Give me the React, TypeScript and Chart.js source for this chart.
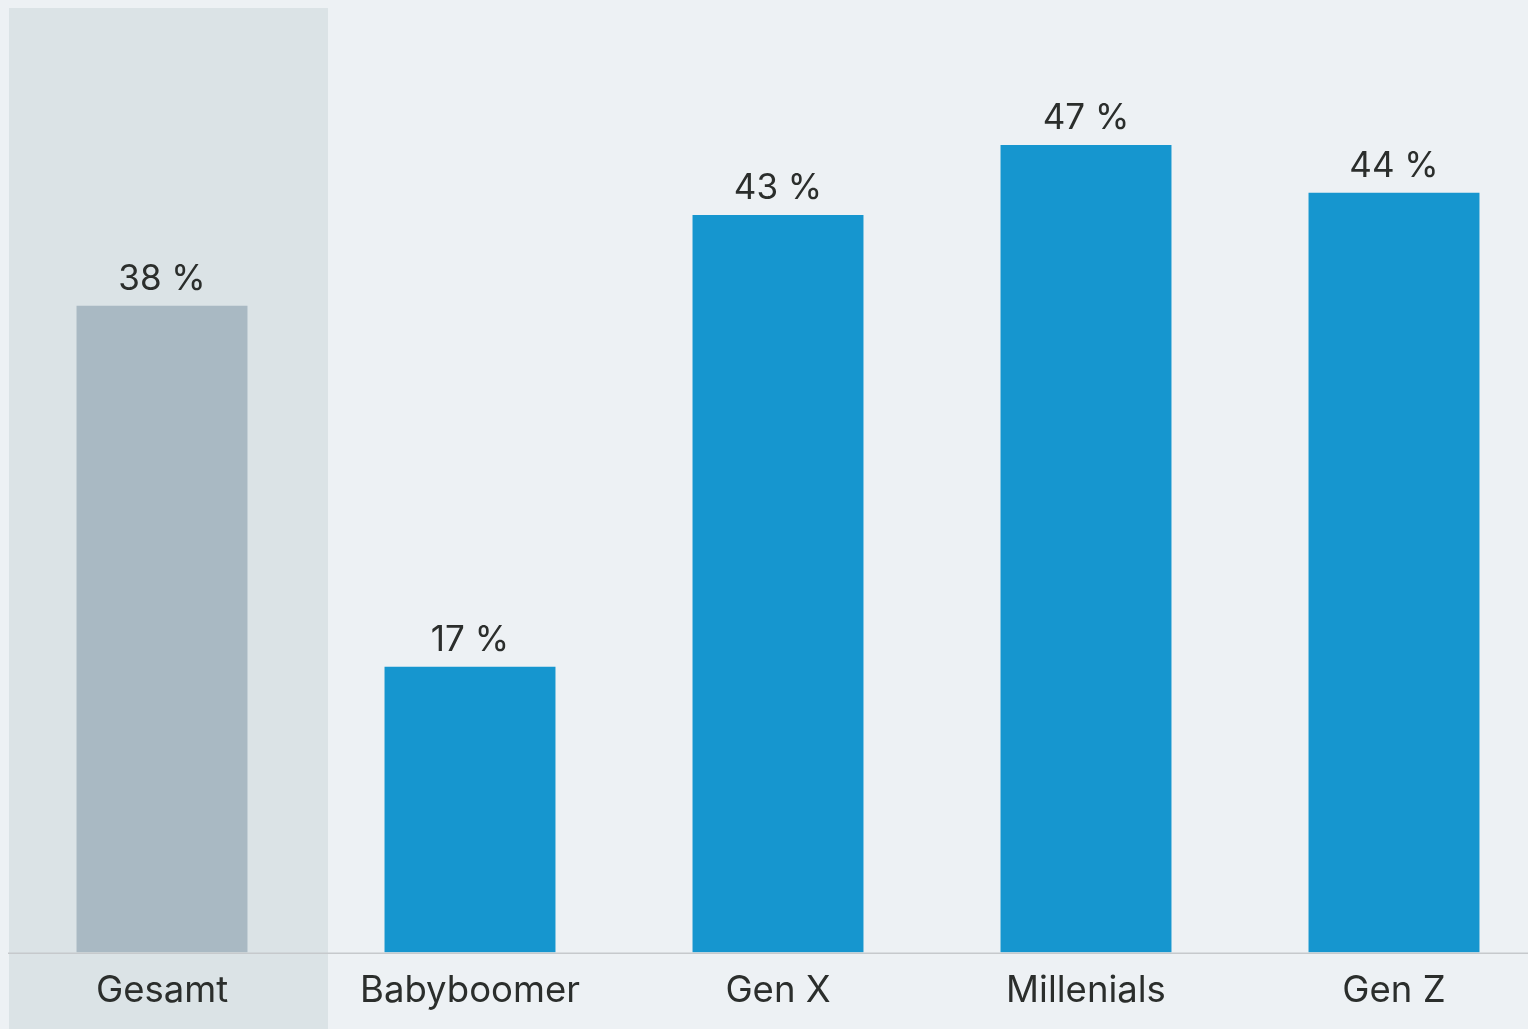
import React, { useEffect, useRef } from "react";
import { Chart, registerables } from "chart.js";

Chart.register(...registerables);

const categories = ["Gesamt", "Babyboomer", "Gen X", "Millenials", "Gen Z"];
const values = [37.8, 16.7, 43.1, 47.2, 44.4];
const barColors = ["#a9b9c3", "#1696cf", "#1696cf", "#1696cf", "#1696cf"];
const valueLabels = ["38 %", "17 %", "43 %", "47 %", "44 %"];

const PAGE_BG = "#edf1f4";
const HIGHLIGHT_BG = "#dbe3e6";
const TEXT = "#2b2e2c";
const LINE = "#c6c9cc";
const FONT = "Inter";

const highlightPlugin = {
  id: "highlight",
  beforeDraw(chart: any) {
    const { ctx, chartArea } = chart;
    const x = chart.scales.x;
    const c0 = x.getPixelForValue(0);
    const c1 = x.getPixelForValue(1);
    const w = c1 - c0;
    ctx.save();
    ctx.fillStyle = HIGHLIGHT_BG;
    ctx.fillRect(chartArea.left + 1, 0, c0 + w * 0.539 - chartArea.left - 1, chart.height);
    ctx.restore();
  },
  afterDraw(chart: any) {
    const { ctx, chartArea } = chart;
    ctx.save();
    ctx.strokeStyle = LINE;
    ctx.lineWidth = 1.5;
    ctx.beginPath();
    ctx.moveTo(chartArea.left, chartArea.bottom + 0.75);
    ctx.lineTo(chart.width, chartArea.bottom + 0.75);
    ctx.stroke();
    ctx.restore();
  },
};

const valueLabelPlugin = {
  id: "valueLabels",
  afterDatasetsDraw(chart: any) {
    const { ctx } = chart;
    const meta = chart.getDatasetMeta(0);
    ctx.save();
    ctx.fillStyle = TEXT;
    ctx.font = `400 35px ${FONT}`;
    ctx.textAlign = "center";
    ctx.textBaseline = "alphabetic";
    meta.data.forEach((bar: any, i: number) => {
      ctx.fillText(valueLabels[i], bar.x, bar.y - 16);
    });
    ctx.restore();
  },
};

export default function App() {
  const ref = useRef<HTMLCanvasElement>(null);
  useEffect(() => {
    document.documentElement.style.overflow = "hidden";
    document.documentElement.style.background = PAGE_BG;
    document.body.style.background = PAGE_BG;
    const chart = new Chart(ref.current!, {
      type: "bar",
      data: {
        labels: categories,
        datasets: [
          {
            data: values,
            backgroundColor: barColors,
            borderWidth: 0,
            barPercentage: 0.555,
            categoryPercentage: 1,
          },
        ],
      },
      options: {
        animation: false,
        responsive: false,
        maintainAspectRatio: false,
        layout: { padding: 0 },
        plugins: { legend: { display: false }, tooltip: { enabled: false } },
        scales: {
          x: {
            grid: { display: false, drawTicks: false },
            border: { display: false },
            ticks: {
              color: TEXT,
              font: { family: FONT, size: 36.5 },
              padding: 17,
              maxRotation: 0,
            },
            afterFit(scale: any) {
              scale.height = 76.5;
            },
          },
          y: {
            display: false,
            min: 0,
            max: 55.2,
          },
        },
      },
      plugins: [highlightPlugin, valueLabelPlugin],
    });
    return () => chart.destroy();
  }, []);
  return (
    <div style={{ position: "fixed", left: 8, top: 8, width: 1540, height: 1021 }}>
      <canvas ref={ref} width={1540} height={1021} style={{ display: "block" }} />
    </div>
  );
}
